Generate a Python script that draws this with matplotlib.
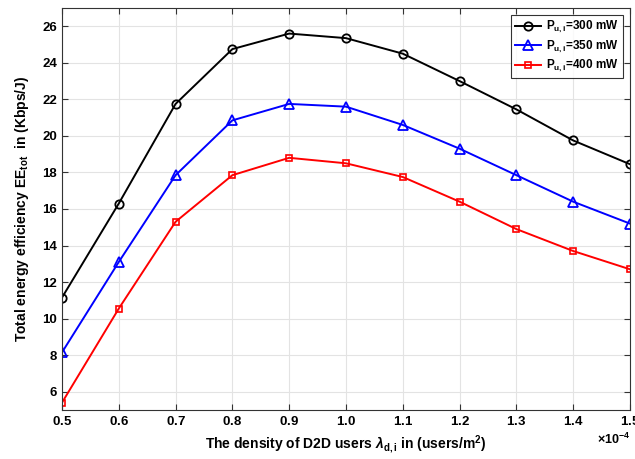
import matplotlib
matplotlib.use("Agg")
import matplotlib.pyplot as plt
from matplotlib.ticker import ScalarFormatter

plt.rcParams['font.family'] = ['Liberation Sans', 'DejaVu Sans']
plt.rcParams['font.weight'] = 'bold'
plt.rcParams['mathtext.fontset'] = 'custom'
plt.rcParams['mathtext.rm'] = 'Liberation Sans:bold'
plt.rcParams['mathtext.bf'] = 'Liberation Sans:bold'
plt.rcParams['mathtext.it'] = 'Liberation Sans:bold:italic'

density = [0.5e-4, 0.6e-4, 0.7e-4, 0.8e-4, 0.9e-4, 1.0e-4, 1.1e-4, 1.2e-4, 1.3e-4, 1.4e-4, 1.5e-4]
ee_300 = [11.15, 16.3, 21.75, 24.75, 25.6, 25.35, 24.5, 23.0, 21.45, 19.75, 18.45]
ee_350 = [8.15, 13.1, 17.85, 20.85, 21.75, 21.6, 20.6, 19.3, 17.85, 16.4, 15.2]
ee_400 = [5.4, 10.55, 15.3, 17.85, 18.8, 18.5, 17.75, 16.4, 14.9, 13.7, 12.7]
labels = [r'P$_{\mathbf{u,i}}$=300 mW', r'P$_{\mathbf{u,i}}$=350 mW', r'P$_{\mathbf{u,i}}$=400 mW']
yticks = [6, 8, 10, 12, 14, 16, 18, 20, 22, 24, 26]

fig = plt.figure(figsize=(6.35, 4.59), dpi=100)
ax = fig.add_axes([0.0976, 0.1068, 0.8945, 0.8758])

ax.plot(density, ee_300, color='black', marker='o', markerfacecolor='none', markersize=6, markeredgewidth=1.3, linewidth=1.4, label=labels[0])
ax.plot(density, ee_350, color='blue', marker='^', markerfacecolor='none', markersize=7, markeredgewidth=1.3, linewidth=1.4, label=labels[1])
ax.plot(density, ee_400, color='red', marker='s', markerfacecolor='none', markersize=5, markeredgewidth=1.2, linewidth=1.4, label=labels[2])

ax.set_xlim(0.5e-4, 1.5e-4)
ax.set_ylim(5, 27)
ax.set_xticks(density)
ax.set_yticks(yticks)
fmt = ScalarFormatter(useMathText=True)
fmt.set_powerlimits((-3, 3))
ax.xaxis.set_major_formatter(fmt)
ax.xaxis.get_offset_text().set_fontsize(9)

ax.grid(True, color='#e3e3e3', linewidth=0.8)
ax.set_axisbelow(True)
ax.tick_params(direction='in', length=4, labelsize=9.5, top=True, right=True, color='#333333')
for lab in ax.get_xticklabels() + ax.get_yticklabels():
    lab.set_fontweight('bold')
for s in ax.spines.values():
    s.set_color('#333333')
    s.set_linewidth(0.8)

ax.set_xlabel(r'The density of D2D users $\lambda_{\mathbf{d,i}}$ in (users/m$^{\mathbf{2}}$)', fontsize=10, fontweight='bold')
ax.set_ylabel(r'Total energy efficiency EE$_{\mathbf{tot}}$  in (Kbps/J)', fontsize=10, fontweight='bold', labelpad=8)

leg = ax.legend(loc='upper right', fontsize=8.5, frameon=True, fancybox=False, edgecolor='black', borderpad=0.35, handlelength=2.2, handletextpad=0.4, labelspacing=0.3, borderaxespad=0.6)
leg.get_frame().set_linewidth(0.8)
for t in leg.get_texts():
    t.set_fontweight('bold')

fig.savefig('out.png', dpi=100)
